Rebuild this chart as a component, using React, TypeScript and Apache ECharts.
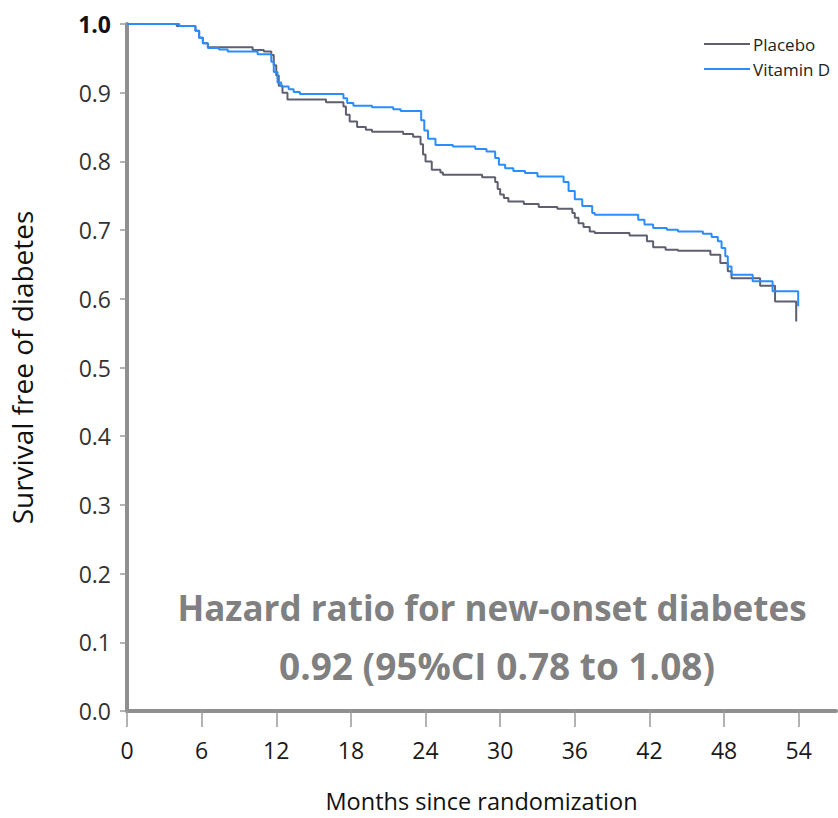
import React, { useEffect, useRef } from "react";
import * as echarts from "echarts";

const seriesNames = ["Placebo", "Vitamin D"];

const placeboMonths = [0, 4.0, 5.5, 5.8, 6.1, 6.5, 10.1, 11.0, 11.6, 11.8, 12.0, 12.2, 12.5, 12.9, 16.0, 17.4, 17.6, 17.9, 18.5, 19.2, 19.7, 22.2, 23.0, 23.6, 23.8, 24.0, 24.5, 25.2, 25.4, 28.55, 29.6, 29.8, 30.0, 30.3, 30.66, 31.9, 33.1, 34.6, 35.8, 36.0, 36.3, 36.7, 37.2, 37.6, 40.4, 41.8, 42.3, 43.3, 44.3, 46.9, 47.7, 48.3, 48.6, 50.9, 52.1, 53.8];
const placeboSurvival = [1.0, 0.997, 0.99, 0.98, 0.972, 0.966, 0.962, 0.96, 0.955, 0.94, 0.925, 0.91, 0.9, 0.89, 0.886, 0.88, 0.868, 0.858, 0.85, 0.846, 0.843, 0.84, 0.836, 0.825, 0.81, 0.8, 0.788, 0.784, 0.7805, 0.777, 0.77, 0.76, 0.752, 0.7466, 0.7417, 0.738, 0.7335, 0.731, 0.725, 0.718, 0.71, 0.7045, 0.698, 0.6957, 0.692, 0.6836, 0.675, 0.6715, 0.67, 0.664, 0.652, 0.64, 0.63, 0.619, 0.596, 0.567];

const vitDMonths = [0, 4.2, 5.5, 5.8, 6.1, 6.5, 7.4, 8.1, 10.5, 11.6, 11.8, 12.1, 12.4, 13.0, 13.4, 13.9, 17.4, 17.7, 18.2, 19.7, 21.4, 22.0, 23.65, 23.9, 24.2, 24.8, 26.2, 28.0, 28.9, 29.6, 29.9, 30.4, 31.06, 32.0, 33.0, 35.1, 35.5, 36.0, 36.6, 37.4, 37.6, 41.1, 41.6, 42.3, 43.4, 44.3, 46.3, 47.0, 47.5, 47.8, 48.1, 48.3, 48.6, 50.3, 51.9, 53.96];
const vitDSurvival = [1.0, 0.997, 0.99, 0.98, 0.972, 0.965, 0.963, 0.96, 0.956, 0.945, 0.93, 0.915, 0.909, 0.905, 0.901, 0.898, 0.892, 0.885, 0.881, 0.879, 0.876, 0.8735, 0.86, 0.845, 0.833, 0.824, 0.8217, 0.818, 0.8144, 0.805, 0.795, 0.79, 0.786, 0.783, 0.778, 0.77, 0.757, 0.745, 0.735, 0.725, 0.7224, 0.715, 0.708, 0.703, 0.7006, 0.698, 0.6948, 0.69, 0.6836, 0.674, 0.662, 0.647, 0.635, 0.6255, 0.611, 0.589];

const xTicks = [0, 6, 12, 18, 24, 30, 36, 42, 48, 54];
const annotationLines = ["Hazard ratio for new-onset diabetes", "0.92 (95%CI 0.78 to 1.08)"];

const FONT = "'Open Sans', 'DejaVu Sans', sans-serif";

export default function App() {
  const ref = useRef<HTMLDivElement>(null);
  useEffect(() => {
    if (!ref.current) return;
    const chart = echarts.init(ref.current, null, { renderer: "svg" });
    const pair = (xs: number[], ys: number[]) => xs.map((x, i) => [x, ys[i]]);
    chart.setOption({
      animation: false,
      backgroundColor: "#ffffff",
      grid: { left: 126, right: 2, top: 24, bottom: 106 },
      legend: {
        data: seriesNames,
        orient: "vertical",
        left: 699,
        top: 29,
        icon: "rect",
        itemWidth: 46,
        itemHeight: 2,
        itemGap: 5,
        textStyle: { fontFamily: FONT, fontSize: 17, color: "#222", lineHeight: 20, padding: [0, 0, 0, -2] },
      },
      xAxis: {
        type: "value",
        min: 0,
        max: 57,
        interval: 6,
        name: "Months since randomization",
        nameLocation: "middle",
        nameGap: 78,
        nameTextStyle: { fontFamily: FONT, fontSize: 23.5, color: "#111" },
        axisLine: { show: true, lineStyle: { color: "#8f8f8f", width: 4 } },
        axisTick: { show: true, length: 16, customValues: xTicks, lineStyle: { color: "#9a9a9a", width: 1.5 } },
        axisLabel: { customValues: xTicks, margin: 27, fontFamily: FONT, fontSize: 23, color: "#1a1a1a" },
        splitLine: { show: false },
      },
      yAxis: {
        type: "value",
        min: 0,
        max: 1,
        interval: 0.1,
        name: "Survival free of diabetes",
        nameLocation: "middle",
        nameGap: 91,
        nameTextStyle: { fontFamily: FONT, fontSize: 28, color: "#111" },
        axisLine: { show: true, lineStyle: { color: "#8f8f8f", width: 4 } },
        axisTick: { show: true, length: 7, lineStyle: { color: "#9a9a9a", width: 1.5 } },
        axisLabel: {
          margin: 16,
          fontFamily: FONT,
          fontSize: 23,
          color: "#333",
          formatter: (v: number) => (v === 1 ? "{b|1.0}" : v.toFixed(1)),
          rich: { b: { fontFamily: FONT, fontSize: 23, fontWeight: "bold", color: "#111" } },
        },
        splitLine: { show: false },
      },
      series: [
        {
          name: seriesNames[0],
          type: "line",
          step: "end",
          symbol: "none",
          color: "#5f5f70",
          lineStyle: { width: 2, color: "#5f5f70" },
          data: pair(placeboMonths, placeboSurvival),
          z: 2,
        },
        {
          name: seriesNames[1],
          type: "line",
          step: "end",
          symbol: "none",
          color: "#2b8cff",
          lineStyle: { width: 2, color: "#2b8cff" },
          data: pair(vitDMonths, vitDSurvival),
          z: 3,
        },
      ],
      graphic: annotationLines.map((t, i) => ({
        type: "text",
        z: 10,
        style: {
          text: t,
          x: i === 0 ? 492 : 497,
          y: i === 0 ? 607 : 665,
          textAlign: "center",
          textVerticalAlign: "middle",
          fontFamily: FONT,
          fontSize: i === 0 ? 35 : 37,
          fontWeight: "bold",
          fill: "#808080",
        },
      })),
    });
    return () => chart.dispose();
  }, []);
  return <div ref={ref} style={{ position: "fixed", left: 0, top: 0, width: 838, height: 818 }} />;
}
